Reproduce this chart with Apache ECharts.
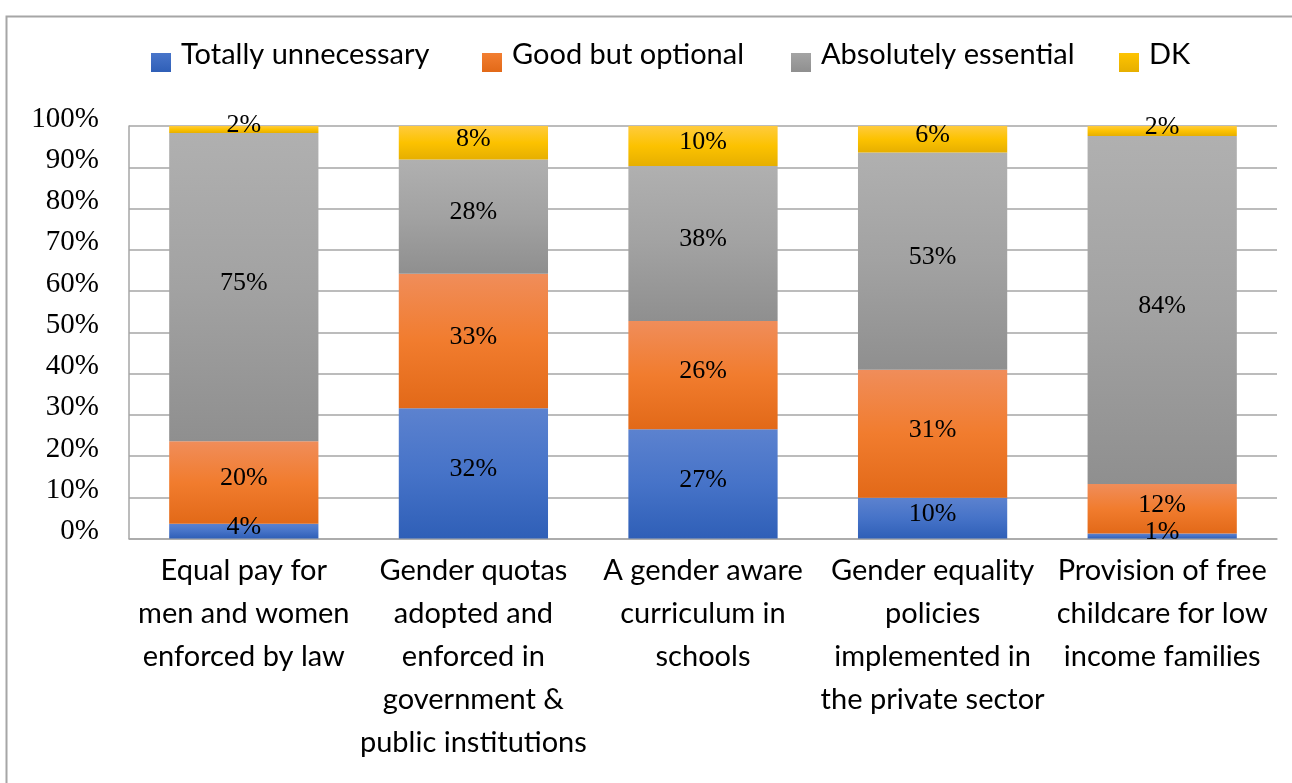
<!DOCTYPE html>
<html>
<head>
<meta charset="utf-8">
<script src="https://cdn.jsdelivr.net/npm/echarts@6/dist/echarts.min.js"></script>
<style>
  html, body { margin: 0; padding: 0; background: #ffffff; }
  #chart { width: 1292px; height: 783px; }
</style>
</head>
<body>
<div id="chart"></div>
<script>
const categories = [
  "Equal pay for\nmen and women\nenforced by law",
  "Gender quotas\nadopted and\nenforced in\ngovernment &\npublic institutions",
  "A gender aware\ncurriculum in\nschools",
  "Gender equality\npolicies\nimplemented in\nthe private sector",
  "Provision of free\nchildcare for low\nincome families"
];
const seriesNames = ["Totally unnecessary", "Good but optional", "Absolutely essential", "DK"];
const totallyUnnecessary  = [3.6, 31.6, 26.5, 9.9, 1.2];
const goodButOptional     = [20.0, 32.6, 26.2, 31.0, 12.0];
const absolutelyEssential = [74.7, 27.7, 37.6, 52.7, 84.4];
const dontKnow            = [1.7, 8.1, 9.7, 6.4, 2.4];
const yTicks = [0, 10, 20, 30, 40, 50, 60, 70, 80, 90, 100];

const seriesValues = [totallyUnnecessary, goodButOptional, absolutelyEssential, dontKnow];

function grad(top, mid, bottom) {
  return new echarts.graphic.LinearGradient(0, 0, 0, 1, [
    { offset: 0, color: top },
    { offset: 0.5, color: mid },
    { offset: 1, color: bottom }
  ]);
}
const colors = [
  grad('#5c82cf', '#4673c8', '#2f5fb7'),
  grad('#f08d5a', '#f17c2e', '#e26918'),
  grad('#b0b0b0', '#a2a2a2', '#8f8f8f'),
  grad('#ffcb3d', '#fcc200', '#e6af00')
];

const legendLefts = [146, 477, 786, 1114];

const chart = echarts.init(document.getElementById('chart'), null, { renderer: 'canvas' });

const option = {
  backgroundColor: '#ffffff',
  animation: false,
  graphic: [{
    type: 'rect',
    left: 4, top: 14,
    shape: { width: 1320, height: 800 },
    style: { fill: 'none', stroke: '#a6a6a6', lineWidth: 2 },
    silent: true, z: -10
  }],
  legend: seriesNames.map((n, i) => ({
    data: [n],
    left: legendLefts[i],
    top: 33,
    itemWidth: 20,
    itemHeight: 34,
    icon: 'path://M0,0 M0,15 L20,15 L20,34 L0,34 Z',
    selectedMode: false,
    textStyle: { fontFamily: 'Lato', fontSize: 29, color: '#000', padding: [0, 0, 0, 5] }
  })),
  grid: { left: 129, right: 15, top: 126, bottom: 244.5, containLabel: false },
  xAxis: {
    type: 'category',
    data: categories,
    axisLine: { show: true, lineStyle: { color: '#a6a6a6', width: 1.5 } },
    axisTick: { show: false },
    axisLabel: {
      interval: 0,
      margin: 11,
      fontFamily: 'Lato',
      fontSize: 29,
      lineHeight: 43,
      color: '#000',
      align: 'center'
    }
  },
  yAxis: {
    type: 'value',
    min: yTicks[0],
    max: yTicks[yTicks.length - 1],
    interval: 10,
    axisLine: { show: true, lineStyle: { color: '#a6a6a6', width: 1.5 } },
    axisTick: { show: false },
    splitLine: { show: true, lineStyle: { color: '#a6a6a6', width: 1.5 } },
    axisLabel: {
      formatter: '{value}%',
      margin: 30,
      fontFamily: 'Liberation Serif',
      fontSize: 29,
      color: '#000',
      verticalAlign: 'bottom',
      lineHeight: 14
    }
  },
  series: seriesNames.map((n, i) => ({
    name: n,
    type: 'bar',
    stack: 'total',
    barWidth: '65%',
    data: seriesValues[i],
    itemStyle: { color: colors[i] },
    label: {
      show: true,
      position: 'inside',
      offset: [0, -4],
      formatter: p => Math.round(p.value) + '%',
      fontFamily: 'Liberation Serif',
      fontSize: 26,
      color: '#000'
    }
  }))
};

chart.setOption(option);
</script>
</body>
</html>
